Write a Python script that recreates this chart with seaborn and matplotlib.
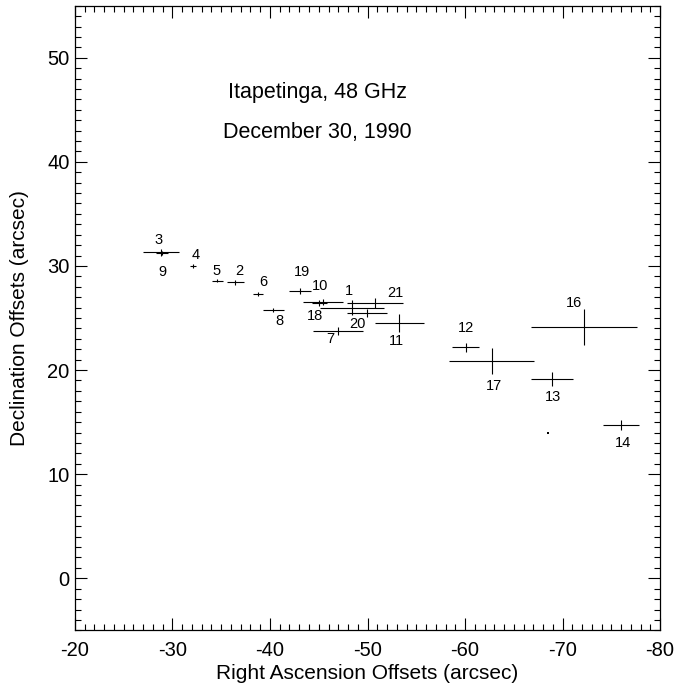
import matplotlib
matplotlib.use("Agg")
import matplotlib.pyplot as plt
from matplotlib.ticker import MultipleLocator
import seaborn as sns
import pandas as pd

# Source positions (arcsec offsets) with their uncertainties
labels = ["1", "2", "3", "4", "5", "6", "7", "8", "9", "10",
          "11", "12", "13", "14", "16", "17", "18", "19", "20", "21"]
ra_offset = [-48.38, -36.44, -28.82, -32.13, -34.60, -38.74, -47.00, -40.34, -28.90, -45.40,
             -53.26, -60.07, -68.95, -75.97, -72.24, -62.74, -45.06, -43.08, -49.98, -50.77]
dec_offset = [26.00, 28.43, 31.30, 30.00, 28.59, 27.28, 23.78, 25.77, 31.25, 26.57,
              24.55, 22.19, 19.15, 14.73, 24.14, 20.87, 26.45, 27.60, 25.51, 26.47]
ra_error = [3.28, 0.85, 1.88, 0.30, 0.56, 0.51, 2.56, 1.06, 0.60, 2.05,
            2.51, 1.37, 2.14, 1.85, 5.44, 4.36, 0.80, 1.10, 2.05, 2.85]
dec_error = [0.72, 0.24, 0.32, 0.20, 0.15, 0.20, 0.40, 0.22, 0.20, 0.30,
             0.88, 0.43, 0.64, 0.51, 1.76, 1.25, 0.30, 0.27, 0.40, 0.48]

# An unlabelled single detection
extra_ra = [-68.54]
extra_dec = [13.99]

title_lines = ["Itapetinga, 48 GHz", "December 30, 1990"]

# Label placement (pixels from each cross centre: right, down)
label_shift = {
    "1": (-3, -17), "2": (4, -11), "3": (-2, -12), "4": (2, -11), "5": (-1, -10),
    "6": (6, -12), "7": (-8, 8), "8": (6, 11), "9": (1, 19), "10": (-3, -16),
    "11": (-3, 18), "12": (0, -19), "13": (1, 18), "14": (2, 18), "16": (-10, -24),
    "17": (2, 25), "18": (-4, 13), "19": (2, -19), "20": (-10, 11), "21": (20, -10),
}

df = pd.DataFrame({"label": labels, "ra": ra_offset, "dec": dec_offset,
                   "ra_err": ra_error, "dec_err": dec_error})

sns.set_theme(style="ticks")
plt.rcParams["font.family"] = ["Liberation Sans", "DejaVu Sans"]
plt.rcParams["axes.unicode_minus"] = False
for key in ("text.color", "axes.labelcolor", "xtick.color", "ytick.color",
            "axes.edgecolor", "xtick.labelcolor", "ytick.labelcolor"):
    plt.rcParams[key] = "black"

fig = plt.figure(figsize=(6.91, 6.84), dpi=100)
ax = fig.add_axes([0.1085, 0.0784, 0.8467, 0.9133])

ax.errorbar(df["ra"], df["dec"], xerr=df["ra_err"], yerr=df["dec_err"],
            fmt="none", ecolor="black", elinewidth=0.8, capsize=0)

sns.scatterplot(x=extra_ra, y=extra_dec, ax=ax, color="black", s=2,
                marker="s", linewidth=0, legend=False)

for _, row in df.iterrows():
    dx, dy = label_shift[row["label"]]
    ax.annotate(row["label"], (row["ra"], row["dec"]), xytext=(dx, -dy),
                textcoords="offset pixels", ha="center", va="center",
                fontsize=10.5, color="black")

ax.text(-44.9, 46.65, title_lines[0], ha="center", va="center", fontsize=15.5)
ax.text(-44.9, 42.8, title_lines[1], ha="center", va="center", fontsize=15.5)

ax.set_xlim(-20, -80)
ax.set_ylim(-5, 55)
ax.xaxis.set_major_locator(MultipleLocator(10))
ax.xaxis.set_minor_locator(MultipleLocator(1))
ax.yaxis.set_major_locator(MultipleLocator(10))
ax.yaxis.set_minor_locator(MultipleLocator(1))

ax.tick_params(which="both", direction="in", top=True, right=True,
               color="black", width=0.8)
ax.tick_params(which="major", length=8.6, labelsize=14.5)
ax.tick_params(axis="x", which="major", pad=8)
ax.tick_params(axis="y", which="major", pad=4)
ax.tick_params(which="minor", length=4.3)
for side in ax.spines.values():
    side.set_color("black")
    side.set_linewidth(0.9)

ax.set_xlabel("Right Ascension Offsets (arcsec)", fontsize=15, labelpad=2.5)
ax.set_ylabel("Declination Offsets (arcsec)", fontsize=15, labelpad=13)

fig.savefig("out.png", dpi=100, facecolor="white")
